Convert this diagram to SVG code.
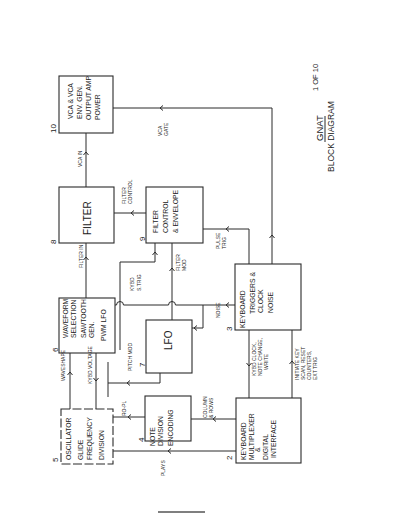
<svg xmlns="http://www.w3.org/2000/svg" width="400" height="518" viewBox="0 0 400 518">
<style>
.box{fill:none;stroke:#2a2a2a;stroke-width:1.1}
.dash{stroke-dasharray:9 2.5}
.ln{fill:none;stroke:#2a2a2a;stroke-width:1}
.ah{fill:none;stroke:#2a2a2a;stroke-width:1}
text{font-family:"Liberation Sans",Arial,sans-serif;fill:#222}
.bt{font-size:6.8px}
.lb{font-size:5px}
.num{font-size:8px}
.big{font-size:10px}
</style>
<defs>
<path id="ah" class="ah" d="M-3,-2.5 L0,0 L-3,2.5"/>
</defs>
<rect width="400" height="518" fill="#fff"/>

<g id="connectors">
<path class="ln" d="M86,187 V133"/>
<use href="#ah" transform="translate(86,152) rotate(-90)"/>
<path class="ln" d="M113,108 H272 V264"/>
<use href="#ah" transform="translate(160,108) rotate(180)"/>
<use href="#ah" transform="translate(272,235) rotate(-90)"/>
<path class="ln" d="M146,213 H114"/>
<use href="#ah" transform="translate(131,213) rotate(180)"/>
<path class="ln" d="M86,298 V243"/>
<use href="#ah" transform="translate(86,257) rotate(-90)"/>
<path class="ln" d="M249,264 V229 H203"/>
<use href="#ah" transform="translate(226,229) rotate(180)"/>
<path class="ln" d="M120,350 V262 H155 V243"/>
<use href="#ah" transform="translate(155,252) rotate(-90)"/>
<path class="ln" d="M172,320 V243"/>
<use href="#ah" transform="translate(172,268) rotate(-90)"/>
<path class="ln" d="M235,305 H175.5 A3.5,3.5 0 0 0 168.5,305 H123.5 A3.5,3.5 0 0 0 116.5,305 H115"/>
<use href="#ah" transform="translate(226,305) rotate(180)"/>
<path class="ln" d="M203,305 V328 H192"/>
<use href="#ah" transform="translate(194,328) rotate(180)"/>
<path class="ln" d="M160,373 V383 H108"/>
<path class="ln" d="M108,362 V397"/>
<use href="#ah" transform="translate(127,383) rotate(180)"/>
<path class="ln" d="M70,409 V353"/>
<use href="#ah" transform="translate(70,372) rotate(-90)"/>
<path class="ln" d="M96,353 V409"/>
<use href="#ah" transform="translate(96,381) rotate(90)"/>
<path class="ln" d="M145,417 H113"/>
<use href="#ah" transform="translate(128,417) rotate(180)"/>
<path class="ln" d="M236,451 H113"/>
<use href="#ah" transform="translate(168,451) rotate(180)"/>
<path class="ln" d="M236,419 H191"/>
<use href="#ah" transform="translate(213,419) rotate(180)"/>
<path class="ln" d="M249,330 V398"/>
<use href="#ah" transform="translate(249,366) rotate(90)"/>
<path class="ln" d="M292,398 V330"/>
<use href="#ah" transform="translate(292,361) rotate(-90)"/>
</g>

<g id="n10">
<rect class="box" x="59" y="76" width="54" height="57"/>
<text class="bt" transform="translate(72.5,119) rotate(-90)">VCA &amp; VCA</text>
<text class="bt" transform="translate(81.5,119) rotate(-90)">ENV. GEN.</text>
<text class="bt" transform="translate(90.5,120) rotate(-90)">OUTPUT AMP</text>
<text class="bt" transform="translate(99.5,120) rotate(-90)">POWER</text>
<text class="num" transform="translate(56,133) rotate(-90)">10</text>
</g>
<g id="n8">
<rect class="box" x="59" y="187" width="55" height="56"/>
<text class="big" transform="translate(90.5,235) rotate(-90)">FILTER</text>
<text class="num" transform="translate(56,244) rotate(-90)">8</text>
</g>
<g id="n9">
<rect class="box" x="146" y="187" width="57" height="56"/>
<text class="bt" transform="translate(157.5,233) rotate(-90)">FILTER</text>
<text class="bt" transform="translate(167.5,233) rotate(-90)">CONTROL</text>
<text class="bt" transform="translate(177.5,233) rotate(-90)">&amp; ENVELOPE</text>
<text class="num" transform="translate(145,241) rotate(-90)">9</text>
</g>
<g id="n6">
<rect class="box" x="59" y="298" width="56" height="55"/>
<text class="bt" transform="translate(67.5,338) rotate(-90)">WAVEFORM</text>
<text class="bt" transform="translate(75.5,338) rotate(-90)">SELECTION</text>
<text class="bt" transform="translate(85.5,338) rotate(-90)">SAWTOOTH</text>
<text class="bt" transform="translate(93.5,338) rotate(-90)">GEN.</text>
<text class="bt" transform="translate(105.5,341) rotate(-90)">PWM LFO</text>
<text class="num" transform="translate(58,352) rotate(-90)">6</text>
</g>
<g id="n7">
<rect class="box" x="146" y="320" width="46" height="53"/>
<text class="big" transform="translate(171.5,350) rotate(-90)">LFO</text>
<text class="num" transform="translate(145,367) rotate(-90)">7</text>
</g>
<g id="n3">
<rect class="box" x="235" y="264" width="66" height="66"/>
<text class="bt" transform="translate(244.5,328) rotate(-90)">KEYBOARD</text>
<text class="bt" transform="translate(254.5,314) rotate(-90)">TRIGGERS &amp;</text>
<text class="bt" transform="translate(263,313) rotate(-90)">CLOCK</text>
<text class="bt" transform="translate(273,313) rotate(-90)">NOISE</text>
<text class="num" transform="translate(232,331) rotate(-90)">3</text>
</g>
<g id="n5">
<rect class="box dash" x="61" y="409" width="52" height="55"/>
<text class="bt" transform="translate(70.5,460) rotate(-90)">OSCILLATOR</text>
<text class="bt" transform="translate(82.5,460) rotate(-90)">GLIDE</text>
<text class="bt" transform="translate(91.5,460) rotate(-90)">FREQUENCY</text>
<text class="bt" transform="translate(103.5,460) rotate(-90)">DIVISION</text>
<text class="num" transform="translate(58,462) rotate(-90)">5</text>
</g>
<g id="n4">
<rect class="box" x="145" y="396" width="46" height="45"/>
<text class="bt" transform="translate(154.5,446) rotate(-90)">NOTE</text>
<text class="bt" transform="translate(162.5,446) rotate(-90)">DIVISION</text>
<text class="bt" transform="translate(172.5,446) rotate(-90)">ENCODING</text>
<text class="num" transform="translate(144,442) rotate(-90)">4</text>
</g>
<g id="n2">
<rect class="box" x="236" y="398" width="65" height="65"/>
<text class="bt" transform="translate(245.5,460) rotate(-90)">KEYBOARD</text>
<text class="bt" transform="translate(253.5,460) rotate(-90)">MULTIPLEXER</text>
<text class="bt" transform="translate(259.5,452) rotate(-90)">&amp;</text>
<text class="bt" transform="translate(267.5,460) rotate(-90)">DIGITAL</text>
<text class="bt" transform="translate(275.5,458) rotate(-90)">INTERFACE</text>
<text class="num" transform="translate(232,460) rotate(-90)">2</text>
</g>

<g id="labels">
<text class="lb" transform="translate(82,167) rotate(-90)">VCA IN</text>
<text class="lb" transform="translate(162,136) rotate(-90)">VCA</text>
<text class="lb" transform="translate(168,136) rotate(-90)">GATE</text>
<text class="lb" transform="translate(126,204) rotate(-90)">FILTER</text>
<text class="lb" transform="translate(132,204) rotate(-90)">CONTROL</text>
<text class="lb" transform="translate(83,268) rotate(-90)">FILTER IN</text>
<text class="lb" transform="translate(134,291) rotate(-90)">KYBD</text>
<text class="lb" transform="translate(141,291) rotate(-90)">S.TRIG</text>
<text class="lb" transform="translate(180,271) rotate(-90)">FILTER</text>
<text class="lb" transform="translate(186,271) rotate(-90)">MOD</text>
<text class="lb" transform="translate(220,249) rotate(-90)">PULSE</text>
<text class="lb" transform="translate(226,249) rotate(-90)">TRIG</text>
<text class="lb" transform="translate(220,318) rotate(-90)">NOISE</text>
<text class="lb" transform="translate(132,371) rotate(-90)">PITCH MOD</text>
<text class="lb" transform="translate(65,381) rotate(-90)">WAVESHAPE</text>
<text class="lb" transform="translate(92,384) rotate(-90)">KYBD VOLTAGE</text>
<text class="lb" transform="translate(126,416) rotate(-90)">RO-PL</text>
<text class="lb" transform="translate(207,418) rotate(-90)">COLUMN</text>
<text class="lb" transform="translate(213,418) rotate(-90)">&amp; ROWS</text>
<text class="lb" transform="translate(165,476) rotate(-90)">PLAYS</text>
<text class="lb" transform="translate(256,376) rotate(-90)">KYBD CLOCK,</text>
<text class="lb" transform="translate(262,376) rotate(-90)">NOTE CHANGE,</text>
<text class="lb" transform="translate(268,370) rotate(-90)">WRITE</text>
<text class="lb" transform="translate(299,380) rotate(-90)">INITIATE KEY</text>
<text class="lb" transform="translate(305,380) rotate(-90)">SCAN, RESET</text>
<text class="lb" transform="translate(311,380) rotate(-90)">COUNTERS,</text>
<text class="lb" transform="translate(317,380) rotate(-90)">EXT TRIG</text>
</g>

<g id="title">
<text style="font-size:9.5px" transform="translate(322.5,141) rotate(-90)">GNAT</text>
<path class="ln" d="M325,142 V116"/>
<text style="font-size:7.5px" transform="translate(317.5,91) rotate(-90)">1 OF 10</text>
<text style="font-size:8.5px" transform="translate(334,172) rotate(-90)">BLOCK DIAGRAM</text>
</g>
<path d="M158,512 H205" stroke="#555" stroke-width="1.5"/>
</svg>
